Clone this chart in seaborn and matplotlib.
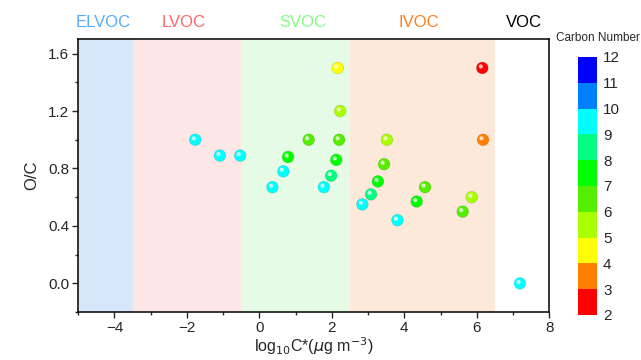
import matplotlib
matplotlib.use("Agg")
import matplotlib.pyplot as plt
import matplotlib.transforms as mtransforms
from matplotlib.colors import ListedColormap, BoundaryNorm
from matplotlib.colorbar import ColorbarBase
import pandas as pd
import seaborn as sns

# volatility bins (log10 C* bounds) and their labels
bin_names = ["ELVOC", "LVOC", "SVOC", "IVOC", "VOC"]
bin_edges = [-5, -3.5, -0.5, 2.5, 6.5, 8]
bin_fill = ["#d6e6fb", "#fde6e6", "#e6fbe6", "#fde9da", "#ffffff"]
bin_text = ["#55aaff", "#ff6666", "#80ff80", "#ff8020", "#000000"]
label_x = [-4.3, -2.1, 1.2, 4.4, 7.3]

# points
log_c = [-1.77, -1.09, -0.53, 0.36, 0.66, 0.79, 1.36, 1.78, 1.98, 2.12,
         2.16, 2.20, 2.23, 2.84, 3.08, 3.27, 3.44, 3.52, 3.81, 4.34,
         4.57, 5.61, 5.86, 6.15, 6.17, 7.19]
o_to_c = [1.00, 0.89, 0.89, 0.67, 0.78, 0.88, 1.00, 0.67, 0.75, 0.86,
          1.50, 1.00, 1.20, 0.55, 0.62, 0.71, 0.83, 1.00, 0.44, 0.57,
          0.67, 0.50, 0.60, 1.50, 1.00, 0.00]
carbon = [9, 9, 9, 9, 9, 7, 6, 9, 8, 7,
          4, 6, 5, 9, 8, 7, 6, 5, 9, 7,
          6, 6, 5, 2, 3, 9]

# carbon number colour scale
cn_levels = [2, 3, 4, 5, 6, 7, 8, 9, 10, 11, 12]
cn_colors = ["#ff0000", "#ff8000", "#ffff00", "#aaff00", "#55ee00",
             "#00ff00", "#00ff80", "#00ffff", "#0080ff", "#0000ff"]

df = pd.DataFrame({"logC": log_c, "OC": o_to_c, "C": carbon})
palette = {c: cn_colors[cn_levels.index(c)] for c in sorted(set(carbon))}

sns.set_style("ticks")
plt.rcParams["font.family"] = ["Liberation Sans", "DejaVu Sans"]

fig = plt.figure(figsize=(6.41, 3.6), dpi=100)
ax = fig.add_axes([0.122, 0.133, 0.735, 0.758])

for i, name in enumerate(bin_names):
    ax.axvspan(bin_edges[i], bin_edges[i + 1], color=bin_fill[i], lw=0, zorder=0)
    ax.text(label_x[i], 1.82, name, color=bin_text[i], fontsize=12,
            ha="center", va="center")

sns.scatterplot(data=df, x="logC", y="OC", hue="C", palette=palette,
                s=72, edgecolor=(0, 0, 0, 0.12), linewidth=0.6,
                legend=False, ax=ax, zorder=3)
# glossy highlight on each sphere
shine = mtransforms.offset_copy(ax.transData, fig=fig, x=-1.5, y=1.5, units="dots")
ax.scatter(df["logC"], df["OC"], s=9, color="white", alpha=0.75,
           edgecolor="none", transform=shine, zorder=4)

ax.set_xlim(-5, 8)
ax.set_ylim(-0.2, 1.7)
ax.set_xticks([-4, -2, 0, 2, 4, 6, 8])
ax.set_xticks(range(-5, 9), minor=True)
ax.set_yticks([0.0, 0.4, 0.8, 1.2, 1.6])
ax.set_yticks([-0.2, 0.2, 0.6, 1.0, 1.4], minor=True)
ax.set_yticklabels(["0.0", "0.4", "0.8", "1.2", "1.6"])
ax.tick_params(which="major", length=4, width=1, labelsize=11, direction="out", pad=2.5)
ax.tick_params(which="minor", length=2.5, width=1, direction="out")
for sp in ax.spines.values():
    sp.set_visible(True)
    sp.set_linewidth(1.1)
    sp.set_color("black")
ax.set_xlabel(r"log$_{10}$C*($\mu$g m$^{-3}$)", fontsize=11.5, labelpad=0)
ax.set_ylabel("O/C", fontsize=12, labelpad=6)

cax = fig.add_axes([0.902, 0.125, 0.030, 0.717])
cmap = ListedColormap(cn_colors)
norm = BoundaryNorm(cn_levels, cmap.N)
cb = ColorbarBase(cax, cmap=cmap, norm=norm, ticks=cn_levels)
cb.outline.set_visible(False)
cax.tick_params(length=0, labelsize=11, pad=4)
fig.text(0.933, 0.894, "Carbon Number", fontsize=8.5, ha="center", va="center")

fig.savefig("out.png", dpi=100)
